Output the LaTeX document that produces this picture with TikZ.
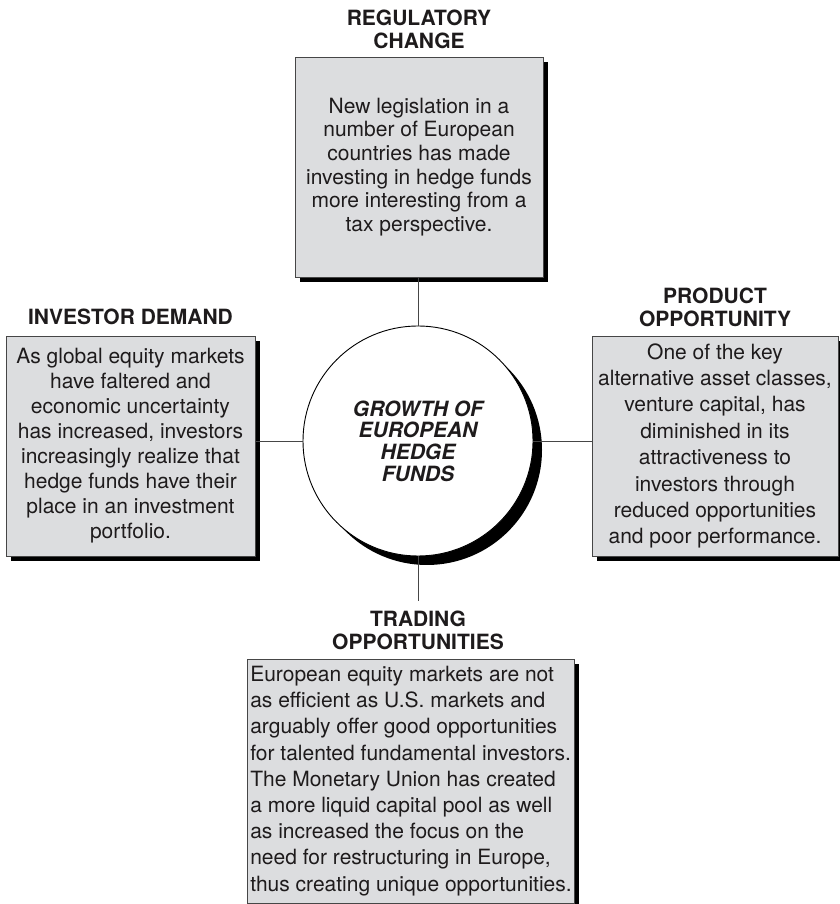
\documentclass[tikz,border=0pt]{standalone}
\usepackage{fontspec}
\setmainfont{TeX Gyre Heros}
\usetikzlibrary{positioning,shadows}

\definecolor{boxgray}{RGB}{220,221,223}
\definecolor{linegray}{RGB}{70,70,70}
\definecolor{inkblack}{RGB}{30,27,28}

\tikzset{
  factor/.style={draw=linegray, line width=0.9pt, fill=boxgray, text=inkblack,
    align=center, inner sep=1pt, font=\fontsize{21}{#1}\selectfont,
    drop shadow={shadow xshift=5pt, shadow yshift=-5pt, fill=black, opacity=1}},
  factor/.default=24,
  heading/.style={align=center, inner sep=0pt, text=inkblack,
    font=\fontsize{21}{23}\selectfont\bfseries},
  hub/.style={circle, draw=black, line width=0.9pt, fill=white, text=inkblack,
    minimum size=230pt, inner sep=0pt, align=center,
    font=\fontsize{21}{21.7}\selectfont\bfseries\itshape,
    drop shadow={shadow xshift=9pt, shadow yshift=-9pt, fill=black, opacity=1}},
  link/.style={draw=linegray, line width=0.9pt}
}

\begin{document}
\begin{tikzpicture}[x=1pt, y=1pt]
  \useasboundingbox (0,0) rectangle (839,904);

  % centre
  \node[hub] (growth) at (418,463) {GROWTH OF\\EUROPEAN\\HEDGE\\FUNDS};

  % the four drivers
  \node[factor=23.7, minimum width=248pt, minimum height=220pt] (regulatory) at (419,737)
    {New legislation in a\\number of European\\countries has made\\investing in hedge funds\\more interesting from a\\tax perspective.};
  \node[heading, above=8pt of regulatory] (regulatorytitle) {REGULATORY\\CHANGE};

  \node[factor=25, minimum width=249pt, minimum height=220pt] (investor) at (130.5,458)
    {As global equity markets\\have faltered and\\economic uncertainty\\has increased, investors\\increasingly realize that\\hedge funds have their\\place in an investment\\portfolio.};
  \node[heading, above=11pt of investor] (investortitle) {INVESTOR DEMAND};

  \node[factor=26.4, minimum width=246pt, minimum height=220pt] (product) at (715,458)
    {One of the key\\alternative asset classes,\\venture capital, has\\diminished in its\\attractiveness to\\investors through\\reduced opportunities\\and poor performance.};
  \node[heading, above=9pt of product] (producttitle) {PRODUCT\\OPPORTUNITY};

  \node[factor=26.2, align=left, inner xsep=2.5pt, minimum width=324pt, minimum height=244pt] (trading) at (411,123)
    {European equity markets are not\\as efficient as U.S. markets and\\arguably offer good opportunities\\for talented fundamental investors.\\The Monetary Union has created\\a more liquid capital pool as well\\as increased the focus on the\\need for restructuring in Europe,\\thus creating unique opportunities.};
  \node[heading, above=9pt of trading.north -| growth.south] (tradingtitle) {TRADING\\OPPORTUNITIES};

  % spokes
  \draw[link] (regulatory.south -| growth.north) -- (growth.north);
  \draw[link] (growth.west) -- (investor.east |- growth.west);
  \draw[link] (growth.east) -- (product.west |- growth.east);
  \draw[link] (growth.south) -- ([yshift=9pt]tradingtitle.north -| growth.south);
\end{tikzpicture}
\end{document}
